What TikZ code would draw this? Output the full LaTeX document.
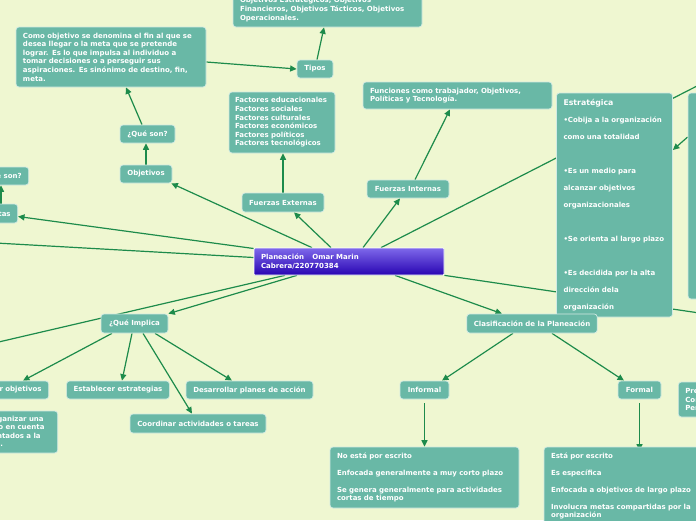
\documentclass[tikz,border=0pt]{standalone}
\usepackage{fontspec}
\setmainfont{DejaVu Sans}
\usetikzlibrary{arrows.meta}
\definecolor{paper}{HTML}{EFF7D1}
\definecolor{topic}{HTML}{69B8A6}
\definecolor{link}{HTML}{1D8B4B}
\definecolor{rootup}{HTML}{7E68EA}
\definecolor{rootdown}{HTML}{2804B2}
\pgfdeclarelayer{bg}
\pgfdeclarelayer{edges}
\pgfsetlayers{bg,edges,main}

\begin{document}
\begin{tikzpicture}[x=1pt,y=-1pt,
  box/.style={draw=white!70!topic, fill=topic, rounded corners=3pt, text=white, line width=0.7pt,
    inner xsep=7pt, inner ysep=2pt, font=\bfseries\fontsize{7}{8.6}\selectfont},
  arr/.style={draw=link, line width=1.2pt, -{Triangle[length=6.5pt,width=6pt]}},
  bare/.style={draw=link, line width=1.2pt}]
  \useasboundingbox (0,0) rectangle (696,520);
  \begin{pgfonlayer}{bg}
    \fill[paper] (0,0) rectangle (696,520);
  \end{pgfonlayer}

  \node[box, draw=white, rounded corners=1pt, top color=rootup, bottom color=rootdown, minimum width=190pt, minimum height=27pt, text width=176pt, align=left] (ctr) at (349,261.5) {Planeación\hspace{1.2em}Omar Marin\\Cabrera/220770384};

  \node[box, minimum width=52pt, minimum height=18pt] (obj) at (146,174) {Objetivos};
  \node[box, minimum width=55pt, minimum height=18pt] (qs) at (147.5,134) {¿Qué son?};
  \node[box, minimum height=60pt, text width=176pt, align=left] (def) at (111,57) {Como objetivo se denomina el fin al que se\\desea llegar o la meta que se pretende\\lograr. Es lo que impulsa al individuo a\\tomar decisiones o a perseguir sus\\aspiraciones. Es sinónimo de destino, fin,\\meta.};
  \node[box, minimum width=36pt, minimum height=18pt] (tipos) at (315,69) {Tipos};
  \node[box, minimum height=35pt, text width=175pt, align=left] (tbox) at (327.5,9.5) {Objetivos Estratégicos, Objetivos\\Financieros, Objetivos Tácticos, Objetivos\\Operacionales.};

  \node[box, minimum width=82pt, minimum height=19pt] (fe) at (283,202.5) {Fuerzas Externas};
  \node[box, minimum height=61pt, text width=94pt, inner xsep=6pt, align=left] (fac) at (282,122.5) {Factores educacionales\\Factores sociales\\Factores culturales\\Factores económicos\\Factores políticos\\Factores tecnológicos};
  \node[box, minimum width=82pt, minimum height=18pt] (fi) at (408,189) {Fuerzas Internas};
  \node[box, minimum height=27pt, text width=175pt, align=left] (fun) at (457.5,95.5) {Funciones como trabajador, Objetivos,\\Políticas y Tecnología.};

  \node[box, minimum height=224pt, text width=102pt, align=left, font=\bfseries\fontsize{7}{17}\selectfont] (est) at (614.5,205) {{\fontsize{7.8}{10}\selectfont Estratégica}\\•Cobija a la organización\\como una totalidad\\[17pt]•Es un medio para\\alcanzar objetivos\\organizacionales\\[17pt]•Se orienta al largo plazo\\[17pt]•Es decidida por la alta\\dirección dela\\organización};
  \node[box, minimum width=72pt, minimum height=206pt] (rbox) at (724,196) {};

  \node[box, anchor=east, minimum height=19pt] (metas) at (18,213.5) {Metas};
  \node[box, anchor=east, minimum height=18pt] (qs2) at (29,176) {¿Qué son?};

  \node[box, minimum width=67pt, minimum height=19pt] (qi) at (134.5,323.5) {¿Qué Implica};
  \node[box, anchor=east, minimum height=18pt] (fij) at (49,390) {Fijar objetivos};
  \node[box, minimum width=102pt, minimum height=18pt] (estab) at (118,390) {Establecer estrategias};
  \node[box, minimum width=127pt, minimum height=18pt] (des) at (249.5,390) {Desarrollar planes de acción};
  \node[box, minimum width=136pt, minimum height=19pt] (coord) at (198,423.5) {Coordinar actividades o tareas};
  \node[box, anchor=east, minimum height=42pt, text width=173pt, align=left] (orgbox) at (58,432) {Es el medio que les permite organizar una\\empresa o institución, tomando en cuenta\\todos sus recursos, mejor orientados a la\\consecución de sus propuestas.};

  \node[box, minimum width=130pt, minimum height=19pt] (clas) at (532,323.5) {Clasificación de la Planeación};
  \node[box, minimum width=49pt, minimum height=18pt] (inf) at (424.5,390) {Informal};
  \node[box, minimum width=43pt, minimum height=18pt] (for) at (639.5,390) {Formal};
  \node[box, minimum height=61pt, text width=175pt, align=left] (infbox) at (424.5,477.5) {No está por escrito\\[8.4pt]Enfocada generalmente a muy corto plazo\\[8.4pt]Se genera generalmente para actividades\\cortas de tiempo};
  \node[box, minimum height=78pt, text width=175pt, align=left] (forbox) at (638.5,486) {Está por escrito\\[8.4pt]Es específica\\[8.4pt]Enfocada a objetivos de largo plazo\\[8.4pt]Involucra metas compartidas por la\\organización};
  \node[box, anchor=west, minimum height=35pt, text width=70pt, align=left] (prebox) at (678,399.5) {Presupuestos\\Controles\\Personal};

  \coordinate (far1) at (740,64);
  \coordinate (far2) at (740,319);
  \coordinate (far3) at (-40,351);
  \coordinate (far4) at (-40,241);

  \begin{pgfonlayer}{edges}
    \draw[arr] ([xshift=-37pt]ctr.north) -- ([xshift=-1pt]obj.south east);
    \draw[arr] (obj.north) -- (obj.north |- qs.south);
    \draw[arr] ([xshift=-5.5pt]qs.north) -- ([xshift=15pt]def.south);
    \draw[arr] ([yshift=-5pt]def.east) -- (tipos.west);
    \draw[arr] ([xshift=2pt]tipos.north) -- ([xshift=-3.5pt]tbox.south);
    \draw[arr] ([xshift=-18pt]ctr.north) -- ([xshift=11pt]fe.south);
    \draw[arr] (fe.north) -- (fe.north |- fac.south);
    \draw[arr] ([xshift=14pt]ctr.north) -- ([xshift=-8pt]fi.south);
    \draw[arr] ([xshift=7pt]fi.north) -- ([xshift=-7.5pt]fun.south);
    \draw[bare] ([xshift=32pt]ctr.north) -- (far1);
    \draw[bare] (ctr.south east) -- (far2);
    \draw[arr] ([yshift=59pt]rbox.west) -- ([yshift=55pt]est.east);
    \draw[arr] ([xshift=46pt]ctr.south) -- ([xshift=-30pt]clas.north);
    \draw[arr] ([xshift=-52pt]ctr.south) -- (qi.north east);
    \draw[bare] ([xshift=-64pt]ctr.south) -- (far3);
    \draw[arr] ([yshift=13pt]ctr.west) -- ([yshift=-3pt]metas.east);
    \draw[bare] ([yshift=4pt]ctr.west) -- (far4);
    \draw[arr] ([xshift=-17pt]metas.north east) -- ([xshift=-28pt]qs2.south east);
    \draw[arr] ([xshift=-22.5pt]qi.south) -- ([xshift=-26pt]fij.north east);
    \draw[arr] ([xshift=-2.5pt]qi.south) -- ([xshift=4pt]estab.north);
    \draw[arr] ([xshift=8.5pt]qi.south) -- ([xshift=-6pt]coord.north);
    \draw[arr] ([xshift=20.5pt]qi.south) -- ([xshift=-17.5pt]des.north);
    \draw[arr] ([xshift=-19pt]clas.south) -- ([xshift=17.5pt]inf.north);
    \draw[arr] ([xshift=20pt]clas.south) -- ([xshift=-15.5pt]for.north);
    \draw[arr] ([yshift=-4pt]inf.south) -- (infbox.north);
    \draw[arr] ([yshift=-4pt]for.south) -- ([yshift=-4pt]for.south |- forbox.north);
  \end{pgfonlayer}
\end{tikzpicture}
\end{document}
